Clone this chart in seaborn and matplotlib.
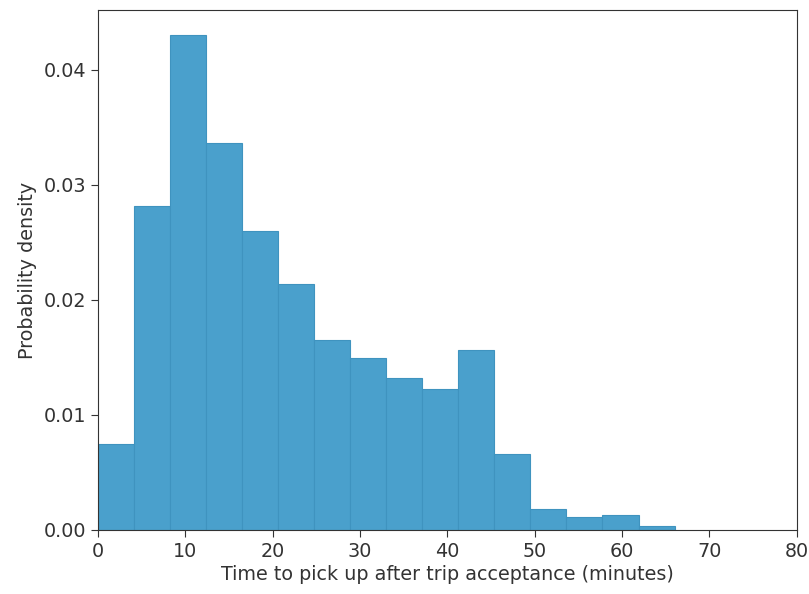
import numpy as np
import pandas as pd
import matplotlib
matplotlib.use("Agg")
import matplotlib.pyplot as plt
import seaborn as sns

bin_width = 4.125
bin_edges = [round(i * bin_width, 4) for i in range(17)]
densities = [0.00748, 0.02817, 0.0430, 0.03365, 0.0260, 0.02139, 0.01652, 0.01496,
             0.01322, 0.01226, 0.01565, 0.00661, 0.00183, 0.00113, 0.0013, 0.00035]
x_ticks = [0, 10, 20, 30, 40, 50, 60, 70, 80]
y_ticks = [0.00, 0.01, 0.02, 0.03, 0.04]

centers = [(bin_edges[i] + bin_edges[i + 1]) / 2 for i in range(len(densities))]
df = pd.DataFrame({"time": centers, "density": densities})

plt.rcParams["font.family"] = ["DejaVu Sans"]
fs = 13.8

fig = plt.figure(figsize=(8.09, 5.94), dpi=100)
ax = fig.add_axes([0.121, 0.108, 0.864, 0.875])

sns.histplot(data=df, x="time", weights="density", bins=bin_edges, stat="count",
             color="#4aa0cc", alpha=1.0, edgecolor="#3f93bf", linewidth=0.8, ax=ax)

ax.set_xlim(0, 80)
ax.set_ylim(0, 0.0452)
ax.set_xticks(x_ticks)
ax.set_yticks(y_ticks)
ax.set_yticklabels([f"{v:.2f}" for v in y_ticks])
ax.set_xlabel("Time to pick up after trip acceptance (minutes)", fontsize=fs, color="#333333", labelpad=3)
ax.set_ylabel("Probability density", fontsize=fs, color="#333333", labelpad=5)
ax.tick_params(labelsize=fs, length=5, colors="#333333")
for s in ax.spines.values():
    s.set_color("#333333")

fig.savefig("out.png", dpi=100)
